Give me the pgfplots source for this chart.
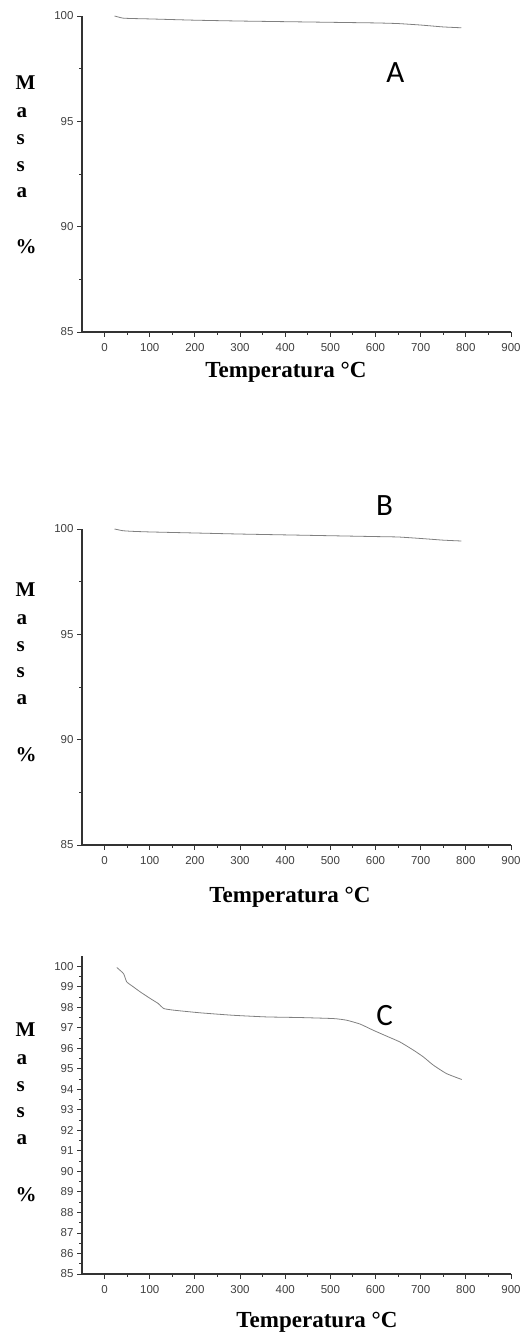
\documentclass[border=0pt]{standalone}
\usepackage{fontspec}
\setmainfont{Liberation Serif}
\newfontfamily\tickfont{Liberation Sans}
\newfontfamily\tagfont{Carlito}
\usepackage{pgfplots}
\pgfplotsset{compat=1.18}

\pgfplotsset{
  tga/.style={
    scale only axis,
    width=429pt,
    anchor=south west,
    axis lines*=left,
    axis line style={line width=1.3pt, black!80},
    tick align=outside,
    tick style={line width=0.9pt, black!80},
    major tick length=5pt,
    minor tick length=3pt,
    xmin=-50, xmax=900,
    xtick={0,100,...,900},
    minor xtick={50,150,...,850},
    ymin=85,
    tick label style={font=\tickfont\fontsize{11.5}{12}\selectfont, text=black!75},
    xticklabel style={yshift=-3pt},
    /pgf/number format/assume math mode=true,
    clip=false,
  },
  tgline/.style={no marks, line width=0.8pt, black!50, smooth, tension=0.3},
}

\newcommand{\masslabel}[6]{%
  \node[font=\bfseries\fontsize{21}{21}\selectfont, anchor=west] at (12pt,#1pt) {M};
  \node[font=\bfseries\fontsize{21}{21}\selectfont, anchor=west] at (13pt,#2pt) {a};
  \node[font=\bfseries\fontsize{21}{21}\selectfont, anchor=west] at (13pt,#3pt) {s};
  \node[font=\bfseries\fontsize{21}{21}\selectfont, anchor=west] at (13pt,#4pt) {s};
  \node[font=\bfseries\fontsize{21}{21}\selectfont, anchor=west] at (13pt,#5pt) {a};
  \node[font=\bfseries\fontsize{21}{21}\selectfont, anchor=west] at (12pt,#6pt) {\%};
}

\begin{document}
\begin{tikzpicture}
\path[use as bounding box] (0pt,0pt) rectangle (524pt,1332pt);

% ---- A ----
\begin{axis}[tga, at={(82pt,1000pt)}, height=316pt, ymax=100,
  ytick={85,90,95,100}, minor ytick={87.5,92.5,97.5}]
\addplot[tgline] coordinates {
  (22,100.0) (40,99.9) (60,99.88) (100,99.86) (200,99.8) (300,99.76)
  (400,99.73) (500,99.7) (600,99.67) (650,99.64) (700,99.57) (750,99.48) (790,99.44)
};
\node[font=\tagfont\fontsize{31}{31}\selectfont] at (axis cs:644,97.3) {A};
\end{axis}
\masslabel{1249}{1219}{1192}{1165}{1139}{1085}
\node[font=\bfseries\fontsize{23}{23}\selectfont, anchor=base] at (286pt,954pt) {Temperatura °C};

% ---- B ----
\begin{axis}[tga, at={(82pt,487pt)}, height=316pt, ymax=100,
  ytick={85,90,95,100}, minor ytick={87.5,92.5,97.5}]
\addplot[tgline] coordinates {
  (22,100.0) (40,99.92) (60,99.89) (100,99.86) (200,99.81) (300,99.76)
  (400,99.72) (500,99.68) (600,99.64) (650,99.62) (700,99.55) (750,99.47) (790,99.43)
};
\node[font=\tagfont\fontsize{31}{31}\selectfont] at (axis cs:620,101.1) {B};
\end{axis}
\masslabel{742}{712}{685}{659}{632}{577}
\node[font=\bfseries\fontsize{23}{23}\selectfont, anchor=base] at (290pt,429pt) {Temperatura °C};

% ---- C ----
\begin{axis}[tga, at={(82pt,58pt)}, height=318pt, ymax=100.5,
  ytick={85,86,...,100}, minor ytick={85.5,86.5,...,99.5}]
\addplot[tgline] coordinates {
  (27,99.94) (42,99.64) (49,99.24) (64,98.99) (79,98.75) (101,98.43)
  (119,98.18) (131,97.94) (153,97.86) (212,97.73) (285,97.61) (359,97.53)
  (433,97.5) (507,97.45) (536,97.37) (566,97.18) (595,96.88) (625,96.59)
  (654,96.31) (684,95.91) (706,95.58) (728,95.18) (757,94.77) (791,94.48)
};
\node[font=\tagfont\fontsize{31}{31}\selectfont] at (axis cs:620,97.6) {C};
\end{axis}
\masslabel{302}{272}{245}{219}{192}{137}
\node[font=\bfseries\fontsize{23}{23}\selectfont, anchor=base] at (317pt,5pt) {Temperatura °C};
\end{tikzpicture}
\end{document}
